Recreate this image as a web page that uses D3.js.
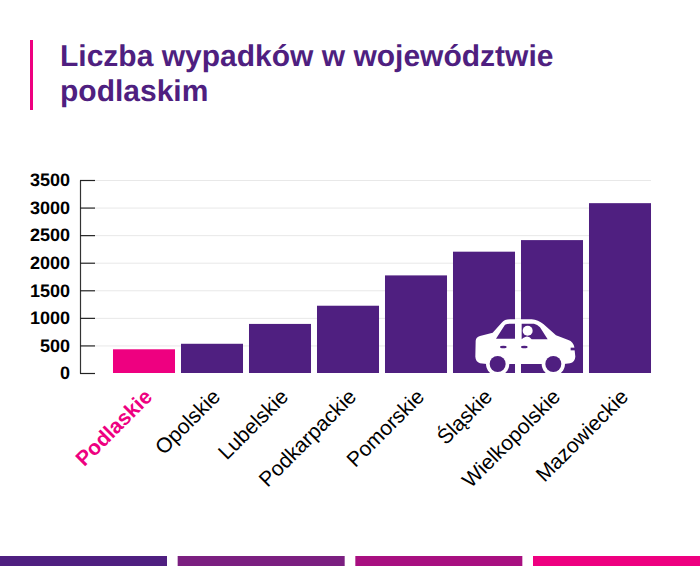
<!DOCTYPE html>
<html><head><meta charset="utf-8">
<script src="https://cdn.jsdelivr.net/npm/d3@7/dist/d3.min.js"></script>
<style>html,body{margin:0;padding:0;background:#fff}svg{display:block}text{font-family:"Liberation Sans",Arial,sans-serif;text-rendering:geometricPrecision}</style>
</head><body><svg id="c" width="700" height="566"></svg>
<script>
const categories=["Podlaskie","Opolskie","Lubelskie","Podkarpackie","Pomorskie","Śląskie","Wielkopolskie","Mazowieckie"];
const values=[430,530,890,1220,1770,2200,2410,3080];
const yTicks=[0,500,1000,1500,2000,2500,3000,3500];
const titleLines=["Liczba wypadków w województwie","podlaskim"];
const stripeColors=["#4f1f80","#7b1f80","#a80f80","#ee0080"];
const PURPLE="#4f1f80",PINK="#ee0080";

const svg=d3.select("#c");
const x=d3.scaleBand().domain(categories).range([110,654]).paddingInner(0.088).paddingOuter(0.044);
const y=d3.scaleLinear().domain([0,3500]).range([373,180]);

// header
svg.append("rect").attr("x",30).attr("y",40).attr("width",3).attr("height",70).attr("fill",PINK);
svg.selectAll("text.title").data(titleLines).join("text").attr("class","title")
  .attr("x",60).attr("y",(d,i)=>66+i*35).attr("font-size",30).attr("font-weight","bold").attr("fill",PURPLE).text(d=>d);

// grid
svg.append("g").selectAll("line").data(yTicks.slice(1)).join("line")
  .attr("x1",95).attr("x2",651).attr("y1",d=>y(d)+.5).attr("y2",d=>y(d)+.5).attr("stroke","#e8e8e8");

// bars
svg.append("g").selectAll("rect").data(categories).join("rect")
  .attr("x",d=>x(d)).attr("width",x.bandwidth())
  .attr("y",(d,i)=>y(values[i])).attr("height",(d,i)=>y(0)-y(values[i]))
  .attr("fill",(d,i)=>i===0?PINK:PURPLE);

// y axis
const ax=svg.append("g").attr("transform","translate(80,0)")
  .call(d3.axisLeft(y).tickValues(yTicks).tickFormat(d3.format("d")).tickSize(-15).tickPadding(10).tickSizeOuter(0));
ax.select(".domain").attr("stroke","#333").attr("stroke-width",1.2);
ax.selectAll(".tick line").attr("stroke","#222").attr("stroke-width",1.2);
ax.selectAll(".tick text").attr("font-family",'"Liberation Sans",Arial,sans-serif').attr("font-size",18).attr("font-weight","bold").attr("fill","#000");

// x labels
svg.append("g").selectAll("text").data(categories).join("text")
  .attr("text-anchor","end")
  .attr("transform",d=>`translate(${x(d)+x.bandwidth()/2+9.5},${398}) rotate(-45)`)
  .attr("font-size",21).attr("font-weight",(d,i)=>i===0?"bold":"normal")
  .attr("fill",(d,i)=>i===0?PINK:"#000").text(d=>d);

// car icon
const car=svg.append("g").attr("transform","translate(460,300) scale(0.3333)");
car.append("path").attr("fill","#fff").attr("fill-rule","evenodd").attr("d",
 "M47 122 Q48 112 60 108 L98 98 L125 68 Q133 58 150 58 L215 58 Q235 60 250 72 L288 106 L325 120 Q340 125 343 142 L346 170 Q345 186 330 190 L312 192 A34 34 0 0 0 248 192 L147 192 A34 34 0 0 0 80 192 L60 190 Q47 185 46 170 Z"+
 "M108 116 L135 74 Q140 71 150 71 L165 71 L165 116 Z"+
 "M185 71 L222 71 Q232 73 240 82 L263 118 L215 118 Q208 108 198 110 Q190 112 185 118 Z");
car.append("circle").attr("cx",203).attr("cy",92).attr("r",15).attr("fill","#fff");
[113,280].forEach(c=>{
 car.append("circle").attr("cx",c).attr("cy",192).attr("r",35).attr("fill","#fff");
 car.append("circle").attr("cx",c).attr("cy",192).attr("r",24).attr("fill",PURPLE);
});
[130,193].forEach(c=>car.append("ellipse").attr("cx",c).attr("cy",141).attr("rx",10).attr("ry",4).attr("fill",PURPLE));
car.append("rect").attr("x",332).attr("y",143).attr("width",14).attr("height",8).attr("fill",PURPLE);

// bottom stripes
const sx=d3.scaleBand().domain(d3.range(4)).range([0,700]).paddingInner(0.06);
svg.append("g").selectAll("rect").data(stripeColors).join("rect")
  .attr("x",(d,i)=>sx(i)).attr("y",556).attr("width",sx.bandwidth()).attr("height",10).attr("fill",d=>d);
</script></body></html>
